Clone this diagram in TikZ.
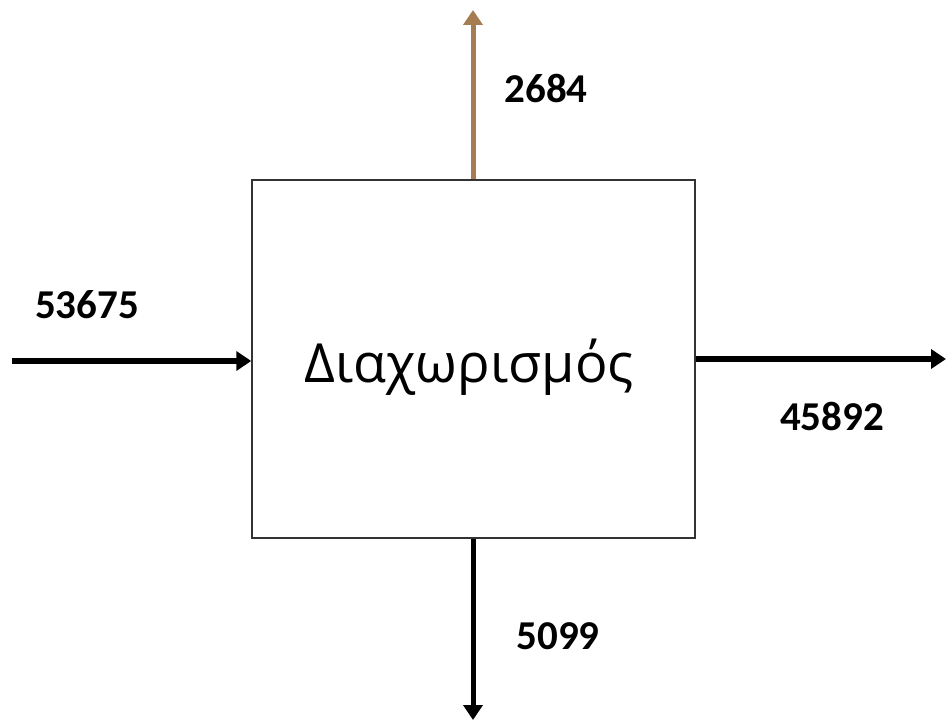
\documentclass[tikz,border=0pt]{standalone}
\usepackage{fontspec}
\setmainfont{Carlito}
\newfontfamily\labelfont{Open Sans}
\usetikzlibrary{arrows.meta}
\definecolor{flowbrown}{RGB}{166,124,82}
\begin{document}
\begin{tikzpicture}[x=1pt,y=-1pt,
  flow/.style={line width=5pt,-{Triangle[length=15pt,width=19pt]}},
  qty/.style={font=\fontsize{41}{48}\selectfont\bfseries,inner sep=0pt}]
\useasboundingbox (0,0) rectangle (946,722);
% process block
\node[draw=black!80,line width=1.5pt,minimum width=443pt,minimum height=358pt,inner sep=0pt] (sep) at (473.5,359) {};
\node[font=\labelfont\fontsize{54}{62}\selectfont,anchor=base,inner sep=0pt] (name) at (469,382) {Διαχωρισμός};
% stream ends
\coordinate (in) at (12,361);
\coordinate (outR) at (946,359);
\coordinate (outT) at (473,10);
\coordinate (outB) at (473,720);
% streams
\draw[flow] (in) -- (in -| sep.west);
\draw[flow] (outR -| sep.east) -- (outR);
\draw[flow,draw=flowbrown,fill=flowbrown] (outT |- sep.north) -- (outT);
\draw[flow] (outB |- sep.south) -- (outB);
% stream quantities
\node[qty] (q1) at (87,305) {53675};
\node[qty] (q2) at (546,88) {2684};
\node[qty] (q3) at (832,416) {45892};
\node[qty] (q4) at (558,636) {5099};
\end{tikzpicture}
\end{document}
